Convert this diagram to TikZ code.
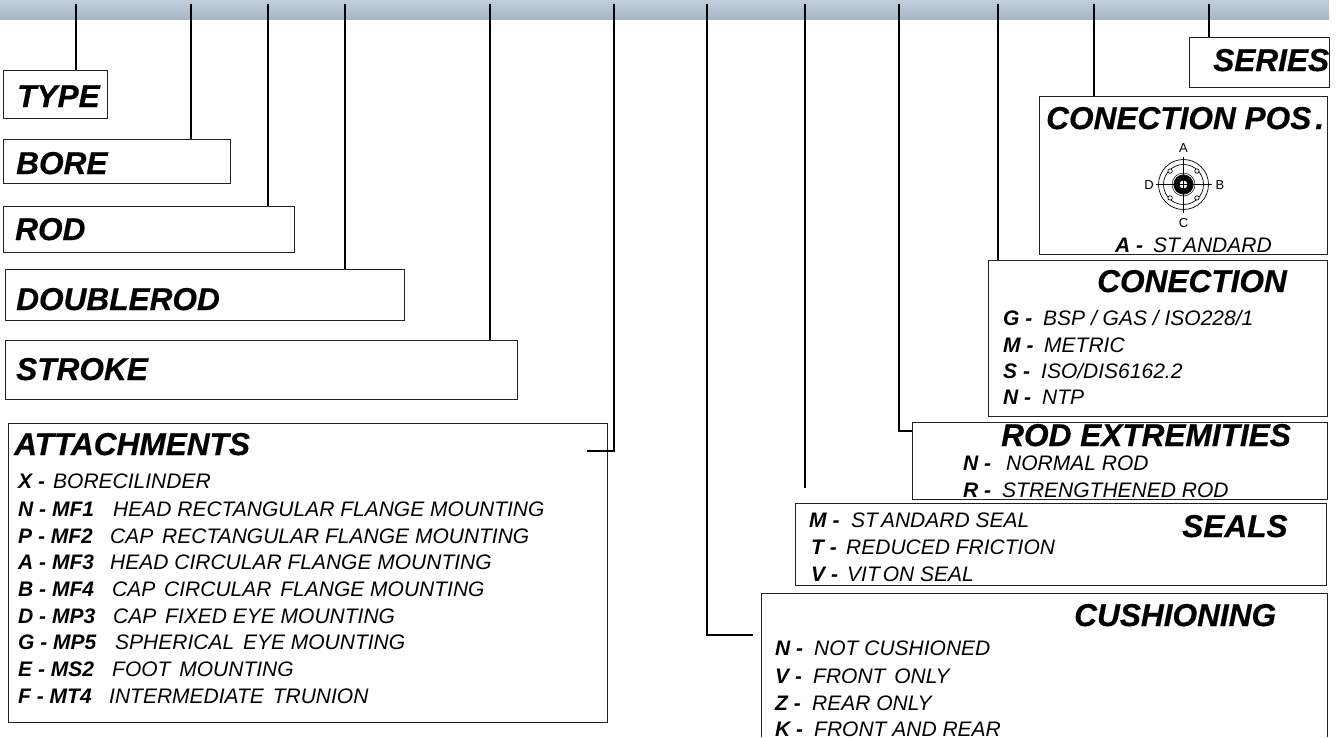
\documentclass[tikz,border=0pt]{standalone}
\usepackage{fontspec}
\setmainfont{Liberation Sans}
\newfontfamily\bigf{Liberation Sans}[UprightFont=* Bold Italic,FakeBold=0.5]
\definecolor{bandtop}{HTML}{C3CEDB}
\definecolor{bandbot}{HTML}{A8B6C5}
\definecolor{boxline}{HTML}{222222}
\tikzset{
  boxx/.style={draw=boxline,line width=0.9pt,fill=white,rectangle,inner sep=0pt,anchor=north west},
  conn/.style={draw=black,line width=1.5pt},
  big/.style={anchor=base west,inner sep=0pt,font=\fontsize{31.6}{32}\selectfont\bigf},
  opt/.style={anchor=base west,inner sep=0pt,font=\fontsize{21}{21}\selectfont\itshape},
  lett/.style={anchor=base,inner sep=0pt,font=\fontsize{13}{13}\selectfont},
  thin/.style={draw=black,line width=0.7pt}
}
\newcommand{\optrow}[6]{\node[opt] (#1) at (#2,#3) {\makebox[#4pt][l]{\bfseries #5}#6};}
\newcommand{\wg}{\hspace{3pt}}
\begin{document}
\begin{tikzpicture}[x=1pt,y=-1pt]
\useasboundingbox (0,0) rectangle (1344,737);
\shade[top color=bandtop,bottom color=bandbot] (0,0) rectangle (1329,19);
% top ends
\foreach \n/\x in {a/76,b/191,c/268,d/345,e/490,f/614,g/707,h/805,i/899,j/998,k/1094,l/1209}{\coordinate (t\n) at (\x,4);}
% boxes
\node[boxx,minimum width=104pt,minimum height=48pt] (type) at (3,70) {};
\node[boxx,minimum width=227pt,minimum height=44pt] (bore) at (3,139) {};
\node[boxx,minimum width=291pt,minimum height=46pt] (rod) at (3,206) {};
\node[boxx,minimum width=399pt,minimum height=51pt] (drod) at (5,269) {};
\node[boxx,minimum width=512pt,minimum height=59pt] (stroke) at (5,340) {};
\node[boxx,minimum width=599pt,minimum height=299pt] (att) at (8,423) {};
\node[boxx,minimum width=139.5pt,minimum height=50pt] (series) at (1189,37) {};
\node[boxx,minimum width=288pt,minimum height=158pt] (pos) at (1039,96) {};
\node[boxx,minimum width=339pt,minimum height=156pt] (conx) at (988,260) {};
\node[boxx,minimum width=415pt,minimum height=77pt] (rodx) at (912,422) {};
\node[boxx,minimum width=531pt,minimum height=82pt] (seals) at (795,503) {};
% cushioning box is open at the bottom
\path (761,593) coordinate (cu1) (1327,593) coordinate (cu2) (761,737) coordinate (cu3) (1327,737) coordinate (cu4);
\draw[draw=boxline,line width=0.9pt] (cu3) -- (cu1) -- (cu2) -- (cu4);
% connectors
\coordinate (fe) at (587,451);
\coordinate (ge) at (753,635);
\coordinate (he) at (805,488);
\coordinate (ie) at (912,431);
\draw[conn] (ta) -- (ta |- type.north);
\draw[conn] (tb) -- (tb |- bore.north);
\draw[conn] (tc) -- (tc |- rod.north);
\draw[conn] (td) -- (td |- drod.north);
\draw[conn] (te) -- (te |- stroke.north);
\draw[conn] (tf) |- (fe);
\draw[conn] (tg) |- (ge);
\draw[conn] (th) -- (he);
\draw[conn] (ti) |- (ie);
\draw[conn] (tj) -- (tj |- conx.north);
\draw[conn] (tk) -- (tk |- pos.north);
\draw[conn] (tl) -- (tl |- series.north);
% titles
\node[big] (ttype) at (17,107) {TYPE};
\node[big] (tbore) at (16,174) {BORE};
\node[big] (trod) at (15,240) {ROD};
\node[big] (tdrod) at (16,310) {DOUBLEROD};
\node[big] (tstroke) at (16,380) {STROKE};
\node[big] (tatt) at (14,455) {ATTACHMENTS};
\node[big] (tser) at (1213,71) {SERIES};
\node[big] (tpos) at (1046,129) {CONECTION POS\kern4pt.};
\node[big] (tconx) at (1097,292) {CONECTION};
\node[big] (trodx) at (1001,446) {ROD EXTREMITIES};
\node[big] (tseal) at (1182,537) {SEALS};
\node[big] (tcush) at (1074,626) {CUSHIONING};
% attachments rows
\optrow{a1}{18}{488}{35}{X -}{BORECILINDER}
\optrow{a2}{18}{516}{95}{N - MF1}{HEAD RECTANGULAR FLANGE MOUNTING}
\optrow{a3}{18}{543}{92}{P - MF2}{CAP\wg\ RECTANGULAR FLANGE MOUNTING}
\optrow{a4}{18}{569}{92}{A - MF3}{HEAD CIRCULAR FLANGE MOUNTING}
\optrow{a5}{18}{596}{94}{B - MF4}{CAP\wg\ CIRCULAR\wg\ FLANGE MOUNTING}
\optrow{a6}{18}{623}{95}{D - MP3}{CAP\wg\ FIXED EYE MOUNTING}
\optrow{a7}{18}{649}{97}{G - MP5}{SPHERICAL\wg\ EYE MOUNTING}
\optrow{a8}{18}{676}{94}{E - MS2}{FOOT\wg\ MOUNTING}
\optrow{a9}{18}{703}{91}{F - MT4}{INTERMEDIATE\wg\ TRUNION}
% conection rows
\optrow{c1}{1003}{325}{40}{G -}{BSP / GAS / ISO228/1}
\optrow{c2}{1003}{352}{41}{M -}{METRIC}
\optrow{c3}{1003}{378}{38}{S -}{ISO/DIS6162.2}
\optrow{c4}{1003}{404}{39}{N -}{NTP}
% rod extremities rows
\optrow{r1}{963}{470}{43}{N -}{NORMAL ROD}
\optrow{r2}{963}{497}{39}{R -}{STRENGTHENED ROD}
% seals
\optrow{s1}{809}{527}{42}{M -}{ST\kern3pt ANDARD SEAL}
\optrow{s2}{811}{554}{35}{T -}{REDUCED FRICTION}
\optrow{s3}{811}{581}{36}{V -}{VIT\kern3pt ON SEAL}
% cushioning
\optrow{k1}{775}{655}{39}{N -}{NOT CUSHIONED}
\optrow{k2}{775}{683}{38}{V -}{FRONT\wg\ ONLY}
\optrow{k3}{775}{710}{37}{Z -}{REAR ONLY}
\optrow{k4}{775}{736}{39}{K -}{FRONT AND REAR}
% standard
\optrow{std}{1115}{252}{38}{A -}{ST\kern3pt ANDARD}
% symbol
\coordinate (m) at (1183.5,184.5);
\fill[black] (m) circle (10);
\draw[thin] (m) circle (25) (m) circle (20);
\draw[draw=black,line width=0.5pt] (m) circle (11.5);
\fill[white] (m) circle (4);
\foreach \a in {45,135,225,315}{\draw[thin,fill=white] (m) ++(\a:19) circle (2.2);}
\draw[draw=black,line width=0.7pt] ([yshift=-28pt]m) -- ([yshift=28pt]m) ([xshift=-28pt]m) -- ([xshift=28pt]m);
\node[lett] (la) at (1183.5,152) {A};
\node[lett] (lc) at (1183.5,227) {C};
\node[lett] (ld) at (1149,189) {D};
\node[lett] (lb) at (1220,189) {B};
\end{tikzpicture}
\end{document}
